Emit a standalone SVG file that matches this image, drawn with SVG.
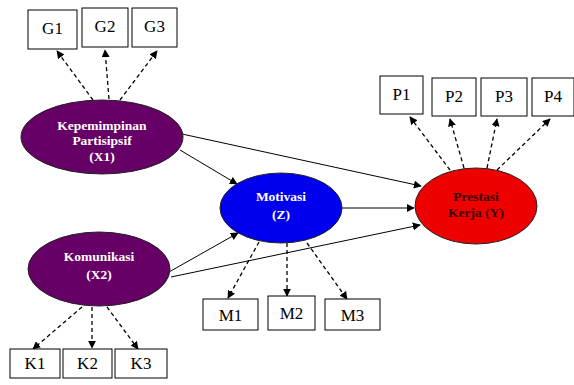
<svg xmlns="http://www.w3.org/2000/svg" width="574" height="385" viewBox="0 0 574 385">
<style>
.box{fill:#fff;stroke:#000;stroke-width:1}
.bt{font-family:"Liberation Serif",serif;font-size:17px;fill:#000;text-anchor:middle}
.et{font-family:"Liberation Serif",serif;font-size:13.5px;font-weight:bold;fill:#fff;text-anchor:middle}
.dash{stroke:#000;stroke-width:1.3;stroke-dasharray:4 3;fill:none;marker-end:url(#ah)}
.solid{stroke:#000;stroke-width:1;fill:none;marker-end:url(#ah)}
.ell{stroke:#222;stroke-width:1}
</style>
<defs>
<marker id="ah" viewBox="0 0 10 10" refX="9" refY="5" markerWidth="8" markerHeight="8" markerUnits="userSpaceOnUse" orient="auto">
<path d="M0,0 L10,5 L0,10 z" fill="#000"/>
</marker>
</defs>
<rect width="574" height="385" fill="#fff"/>
<g id="connectors">
<line class="dash" x1="93" y1="100" x2="57" y2="51"/>
<line class="dash" x1="109" y1="99" x2="105" y2="50"/>
<line class="dash" x1="120" y1="100" x2="157" y2="51"/>
<line class="dash" x1="259" y1="242" x2="228" y2="298"/>
<line class="dash" x1="287" y1="243" x2="287" y2="296"/>
<line class="dash" x1="307" y1="243" x2="347" y2="299"/>
<line class="dash" x1="450" y1="170" x2="410" y2="117"/>
<line class="dash" x1="464" y1="168" x2="450" y2="119"/>
<line class="dash" x1="487" y1="168" x2="497" y2="119"/>
<line class="dash" x1="497" y1="170" x2="550" y2="119"/>
<line class="dash" x1="82" y1="307" x2="33" y2="349"/>
<line class="dash" x1="92" y1="307" x2="92" y2="348"/>
<line class="dash" x1="107" y1="307" x2="138" y2="349"/>
<line class="solid" x1="182" y1="134" x2="421" y2="186"/>
<line class="solid" x1="180" y1="150" x2="237" y2="184"/>
<line class="solid" x1="342" y1="208" x2="414" y2="208"/>
<line class="solid" x1="169" y1="272" x2="238" y2="233"/>
<line class="solid" x1="171" y1="277" x2="420" y2="225"/>
</g>
<g id="X1">
<ellipse class="ell" cx="102" cy="137" rx="81" ry="37" fill="#660066"/>
<text class="et" x="102" y="130">Kepemimpinan</text>
<text class="et" x="102" y="145">Partisipsif</text>
<text class="et" x="102" y="161">(X1)</text>
</g>
<g id="X2">
<ellipse class="ell" cx="99" cy="269" rx="71" ry="37" fill="#660066"/>
<text class="et" x="99" y="261">Komunikasi</text>
<text class="et" x="99" y="279">(X2)</text>
</g>
<g id="Z">
<ellipse class="ell" cx="281" cy="208" rx="61" ry="35" fill="#0000ee"/>
<text class="et" x="281" y="201">Motivasi</text>
<text class="et" x="281" y="219">(Z)</text>
</g>
<g id="Y">
<ellipse class="ell" cx="476" cy="206" rx="61" ry="38" fill="#ee0000"/>
<text class="et" x="476" y="201" style="fill:#3a0000">Prestasi</text>
<text class="et" x="476" y="217" style="fill:#3a0000">Kerja  (Y)</text>
</g>
<g id="G1"><rect class="box" x="28" y="10" width="49" height="39"/><text class="bt" x="52.5" y="34">G1</text></g>
<g id="G2"><rect class="box" x="82" y="8" width="46" height="39"/><text class="bt" x="105" y="32">G2</text></g>
<g id="G3"><rect class="box" x="132" y="8" width="45" height="39"/><text class="bt" x="154.5" y="32">G3</text></g>
<g id="P1"><rect class="box" x="380" y="76" width="43" height="38"/><text class="bt" x="401.5" y="100">P1</text></g>
<g id="P2"><rect class="box" x="432" y="78" width="44" height="38"/><text class="bt" x="454" y="102">P2</text></g>
<g id="P3"><rect class="box" x="481" y="78" width="46" height="38"/><text class="bt" x="504" y="102">P3</text></g>
<g id="P4"><rect class="box" x="532" y="78" width="42" height="38"/><text class="bt" x="553" y="102">P4</text></g>
<g id="M1"><rect class="box" x="203" y="299" width="55" height="31"/><text class="bt" x="230.5" y="321">M1</text></g>
<g id="M2"><rect class="box" x="268" y="296" width="47" height="34"/><text class="bt" x="291.5" y="319">M2</text></g>
<g id="M3"><rect class="box" x="325" y="299" width="55" height="31"/><text class="bt" x="352.5" y="321">M3</text></g>
<g id="K1"><rect class="box" x="10" y="349" width="50" height="29"/><text class="bt" x="35" y="369">K1</text></g>
<g id="K2"><rect class="box" x="63" y="349" width="49" height="29"/><text class="bt" x="87.5" y="369">K2</text></g>
<g id="K3"><rect class="box" x="115" y="349" width="52" height="29"/><text class="bt" x="141" y="369">K3</text></g>
</svg>
